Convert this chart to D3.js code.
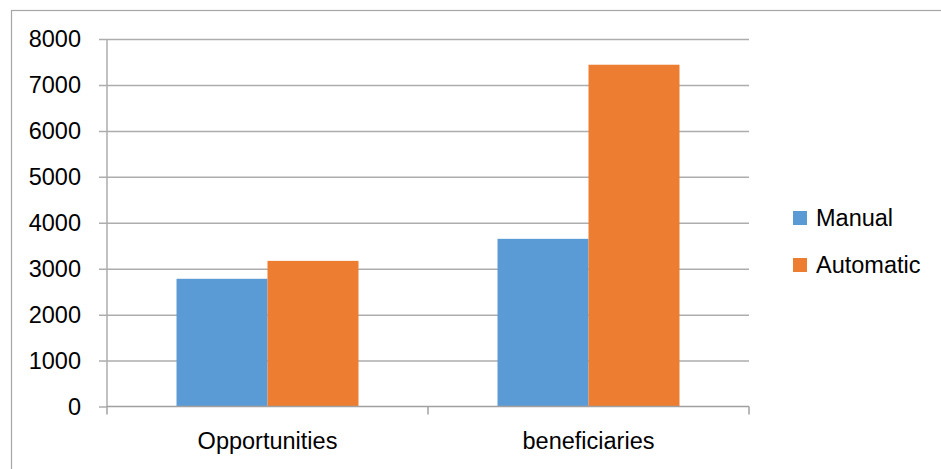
<!DOCTYPE html>
<html><head><meta charset="utf-8">
<script src="https://cdn.jsdelivr.net/npm/d3@7/dist/d3.min.js"></script>
<style>html,body{margin:0;padding:0;background:#fff;}svg{display:block;}</style>
</head><body>
<svg id="c" width="941" height="469"></svg>
<script>
const categories = ["Opportunities", "beneficiaries"];
const seriesNames = ["Manual", "Automatic"];
const manualValues = [2780, 3650];
const automaticValues = [3170, 7440];
const yTicks = [0, 1000, 2000, 3000, 4000, 5000, 6000, 7000, 8000];
const colors = ["#5B9BD5", "#ED7D31"];

(function () {
const font = "'Liberation Sans', Arial, sans-serif";
const fs = 23.5;
const svg = d3.select("#c");
svg.append("rect").attr("x", 11.5).attr("y", 10.5).attr("width", 960).attr("height", 480)
  .attr("fill", "#fff").attr("stroke", "#a6a6a6").attr("stroke-width", 1.2);

const pL = 107, pR = 749, pT = 39, pB = 406.5;
const x0 = d3.scaleBand().domain(categories).range([pL, pR]).paddingInner(0).paddingOuter(0);
const x1 = d3.scaleBand().domain(seriesNames).range([0, x0.bandwidth()]).paddingOuter(0.764).paddingInner(0);
const y = d3.scaleLinear().domain([0, 8000]).range([pB, pT]);

const gy = svg.append("g").attr("transform", `translate(${pL},0)`)
  .call(d3.axisLeft(y).tickValues(yTicks).tickFormat(d3.format("d")).tickSize(8).tickPadding(18));
gy.select(".domain").remove();
gy.selectAll(".tick line").attr("stroke", "#adadad").attr("stroke-width", 1.5)
  .attr("x1", -8).attr("x2", pR - pL);
gy.selectAll(".tick text").attr("font-family", font).attr("font-size", fs).attr("fill", "#000");
gy.selectAll(".tick").filter(d => d === 0).select("line").attr("x2", 0);

svg.append("line").attr("x1", pL).attr("x2", pL).attr("y1", pT).attr("y2", pB)
  .attr("stroke", "#adadad").attr("stroke-width", 1.5);

const data = categories.map((c, i) => ({cat: c, vals: [manualValues[i], automaticValues[i]]}));
const groups = svg.append("g").selectAll("g").data(data).join("g")
  .attr("transform", d => `translate(${x0(d.cat)},0)`);
groups.selectAll("rect").data(d => d.vals.map((v, j) => ({s: seriesNames[j], v, j}))).join("rect")
  .attr("x", d => x1(d.s)).attr("width", x1.bandwidth())
  .attr("y", d => y(d.v)).attr("height", d => y(0) - y(d.v))
  .attr("fill", d => colors[d.j]);

const gx = svg.append("g").attr("transform", `translate(0,${pB})`)
  .call(d3.axisBottom(x0).tickSize(0).tickPadding(26));
gx.select(".domain").attr("stroke", "#a0a0a0").attr("stroke-width", 1.5)
  .attr("d", `M${pL},0H${pR}`);
gx.selectAll(".tick text").attr("font-family", font).attr("font-size", fs).attr("fill", "#000");
const sepPos = [pL, ...categories.slice(1).map(c => x0(c)), pR];
svg.append("g").selectAll("line").data(sepPos).join("line")
  .attr("x1", d => d).attr("x2", d => d).attr("y1", pB).attr("y2", pB + 8)
  .attr("stroke", "#a0a0a0").attr("stroke-width", 1.5);

const leg = svg.append("g").selectAll("g").data(seriesNames).join("g")
  .attr("transform", (d, i) => `translate(793,${211 + i * 47})`);
leg.append("rect").attr("width", 14).attr("height", 14).attr("fill", (d, i) => colors[i]);
leg.append("text").attr("x", 23).attr("y", 15).text(d => d)
  .attr("font-family", font).attr("font-size", fs).attr("fill", "#000");
})();
</script>
</body></html>
